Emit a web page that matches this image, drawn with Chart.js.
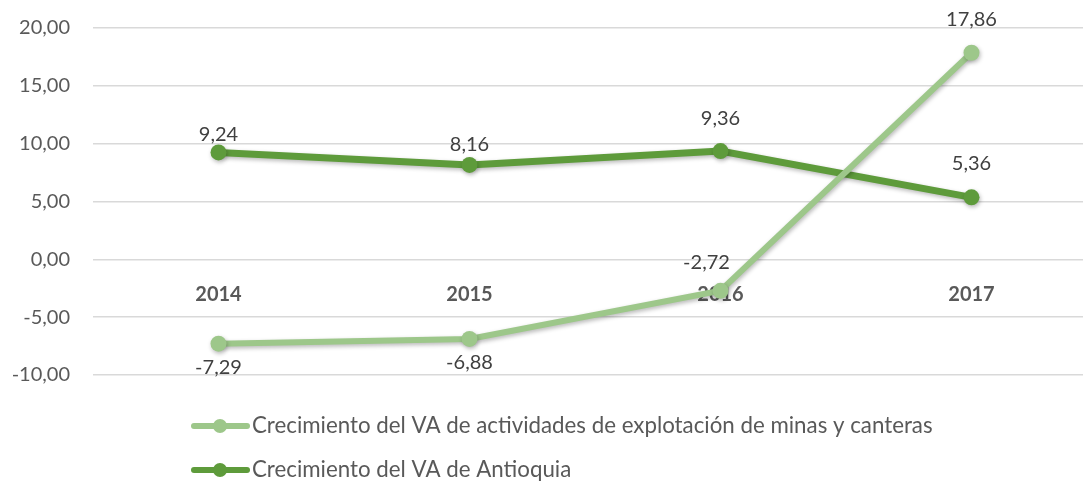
<!DOCTYPE html>
<html>
<head>
<meta charset="utf-8">
<script src="https://cdn.jsdelivr.net/npm/chart.js@4.4.1/dist/chart.umd.min.js"></script>
<style>
  html, body { margin: 0; padding: 0; background: #fff; overflow: hidden; }
  #wrap { width: 1105px; height: 483px; }
</style>
</head>
<body>
<div id="wrap"><canvas id="chart" width="1105" height="483"></canvas></div>
<script>
/* data */
const years = ["2014", "2015", "2016", "2017"];
const minasValues = [-7.29, -6.88, -2.72, 17.86];
const antioquiaValues = [9.24, 8.16, 9.36, 5.36];
const seriesNames = [
  "Crecimiento del VA de actividades de explotación de minas y canteras",
  "Crecimiento del VA de Antioquia"
];

const FONT = "Lato, 'Liberation Sans', sans-serif";
const TXT = "#595959";
const LIGHT = "#9dc78a";
const DARK = "#5e9b3b";

const fmt = v => v.toFixed(2).replace(".", ",");

/* label placement per point: [dx, dy] from the point */
const labelShift = [
  [[0, 24], [0, 24], [-14, -28], [0, -33]],
  [[0, -18], [0, -20], [0, -33], [0, -34]]
];

const valueLabels = {
  id: "valueLabels",
  afterDatasetsDraw(chart) {
    const ctx = chart.ctx;
    ctx.save();
    ctx.font = "20px " + FONT;
    ctx.fillStyle = "#404040";
    ctx.textAlign = "center";
    ctx.textBaseline = "middle";
    chart.data.datasets.forEach((ds, i) => {
      chart.getDatasetMeta(i).data.forEach((pt, j) => {
        const s = labelShift[i][j];
        ctx.fillText(fmt(ds.data[j]), pt.x + s[0], pt.y + s[1]);
      });
    });
    ctx.restore();
  }
};

const shadow = {
  id: "shadow",
  beforeDatasetDraw(chart) {
    const ctx = chart.ctx;
    ctx.save();
    ctx.shadowColor = "rgba(0,0,0,0.28)";
    ctx.shadowBlur = 4;
    ctx.shadowOffsetX = 1;
    ctx.shadowOffsetY = 2;
  },
  afterDatasetDraw(chart) {
    chart.ctx.restore();
  }
};

const bottomLegend = {
  id: "bottomLegend",
  afterDraw(chart) {
    const ctx = chart.ctx;
    const colors = [LIGHT, DARK];
    const rows = [426, 470];
    ctx.save();
    rows.forEach((y, i) => {
      ctx.strokeStyle = colors[i];
      ctx.lineWidth = 6;
      ctx.lineCap = "round";
      ctx.beginPath();
      ctx.moveTo(194, y);
      ctx.lineTo(247, y);
      ctx.stroke();
      ctx.fillStyle = colors[i];
      ctx.beginPath();
      ctx.arc(220, y, 7, 0, Math.PI * 2);
      ctx.fill();
      ctx.font = "22.3px " + FONT;
      ctx.fillStyle = TXT;
      ctx.textAlign = "left";
      ctx.textBaseline = "middle";
      ctx.fillText(seriesNames[i], 252, y);
    });
    ctx.restore();
  }
};

new Chart(document.getElementById("chart"), {
  type: "line",
  data: {
    labels: years,
    datasets: [
      {
        label: seriesNames[0],
        data: minasValues,
        borderColor: LIGHT,
        backgroundColor: LIGHT,
        borderWidth: 6,
        pointRadius: 8,
        pointBorderWidth: 0,
        tension: 0
      },
      {
        label: seriesNames[1],
        data: antioquiaValues,
        borderColor: DARK,
        backgroundColor: DARK,
        borderWidth: 7,
        pointRadius: 8,
        pointBorderWidth: 0,
        tension: 0
      }
    ]
  },
  options: {
    responsive: false,
    animation: false,
    layout: { padding: { top: 28, bottom: 108, left: 0, right: 0 } },
    plugins: {
      legend: { display: false },
      tooltip: { enabled: false }
    },
    scales: {
      x: {
        position: { y: 0 },
        z: 1,
        offset: true,
        grid: { display: false, drawTicks: false },
        border: { display: false },
        ticks: {
          padding: 23,
          color: TXT,
          font: { family: FONT, size: 20, weight: "bold" }
        },
        afterFit(scale) { scale.height = 0; scale.paddingLeft = 0; scale.paddingRight = 0; }
      },
      y: {
        min: -10,
        max: 20,
        grid: { color: "#d9d9d9", lineWidth: 1.5, drawTicks: false },
        border: { display: false },
        ticks: {
          stepSize: 5,
          padding: 23,
          color: TXT,
          font: { family: FONT, size: 20 },
          callback: v => fmt(v)
        },
        afterFit(scale) { scale.width = 93; scale.paddingTop = 0; scale.paddingBottom = 0; }
      }
    }
  },
  plugins: [shadow, valueLabels, bottomLegend]
});
</script>
</body>
</html>
